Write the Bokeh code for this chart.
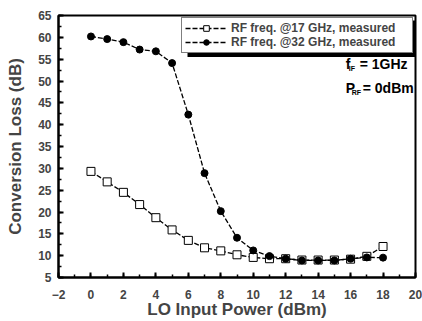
from bokeh.plotting import figure
from bokeh.models import Legend, LegendItem, Label, BoxAnnotation, FixedTicker, Range1d
from bokeh.embed import file_html
from bokeh.resources import INLINE

lo_power = [0, 1, 2, 3, 4, 5, 6, 7, 8, 9, 10, 11, 12, 13, 14, 15, 16, 17, 18]
loss_17ghz = [29.3, 26.9, 24.5, 21.7, 18.7, 15.9, 13.5, 11.8, 11.1, 10.2, 9.6, 9.3, 9.3, 9.0, 9.0, 9.0, 9.2, 9.85, 12.1]
loss_32ghz = [60.2, 59.6, 58.9, 57.2, 56.8, 54.1, 42.3, 28.9, 20.2, 14.1, 11.2, 9.9, 9.3, 8.9, 8.9, 8.9, 9.3, 9.6, 9.55]
x_ticks = [-2, 0, 2, 4, 6, 8, 10, 12, 14, 16, 18, 20]
y_ticks = [5, 10, 15, 20, 25, 30, 35, 40, 45, 50, 55, 60, 65]
label_17 = "RF freq. @17 GHz, measured"
label_32 = "RF freq. @32 GHz, measured"
x_title = "LO Input Power (dBm)"
y_title = "Conversion Loss (dB)"

FONT = "Liberation Sans"

p = figure(width=422, height=321, output_backend="svg", toolbar_location=None,
           x_range=Range1d(-2, 20), y_range=Range1d(5, 65),
           min_border_left=58, min_border_right=7, min_border_top=15, min_border_bottom=44)
p.background_fill_color = "white"
p.border_fill_color = "white"
p.outline_line_color = "black"
p.outline_line_width = 2
p.grid.visible = False

for ax in (p.xaxis[0], p.yaxis[0]):
    ax.axis_line_width = 2
    ax.major_tick_in = 5
    ax.major_tick_out = 0
    ax.minor_tick_in = 3
    ax.minor_tick_out = 0
    ax.major_tick_line_width = 2
    ax.minor_tick_line_width = 1.5
    ax.major_label_text_font = FONT
    ax.major_label_text_font_style = "bold"
    ax.major_label_text_font_size = "12px"
    ax.axis_label_text_font = FONT
    ax.axis_label_text_font_style = "bold"
    ax.axis_label_text_font_size = "17px"

p.xaxis.ticker = FixedTicker(ticks=x_ticks, minor_ticks=list(range(-2, 21)))
p.yaxis.ticker = FixedTicker(ticks=y_ticks, minor_ticks=[v / 2 for v in range(10, 131, 5)])
p.xaxis.axis_label = x_title
p.yaxis.axis_label = y_title
p.xaxis.major_label_standoff = 12
p.yaxis.major_label_standoff = 7
p.xaxis.axis_label_standoff = -2
p.yaxis.axis_label_standoff = 10

l17 = p.line(lo_power, loss_17ghz, line_color="black", line_width=1.3, line_dash="5 2")
s17 = p.scatter(lo_power, loss_17ghz, marker="square", size=8, fill_color="white",
                line_color="black", line_width=1)
l32 = p.line(lo_power, loss_32ghz, line_color="black", line_width=1.3, line_dash="5 2")
s32 = p.scatter(lo_power, loss_32ghz, marker="circle", size=7, fill_color="black",
                line_color="black")

shadow = BoxAnnotation(left=5.95, right=20.2, top=63.86, bottom=55.5,
                       fill_color="black", fill_alpha=1, line_alpha=0)
p.add_layout(shadow)

legend = Legend(items=[LegendItem(label=label_17, renderers=[l17, s17]),
                       LegendItem(label=label_32, renderers=[l32, s32])],
                location="top_right", margin=2, padding=3, spacing=0,
                label_text_font=FONT, label_text_font_style="bold",
                label_text_font_size="12px", label_height=14, glyph_height=14,
                glyph_width=42, label_standoff=4, label_width=178,
                border_line_color="black", border_line_width=1.5,
                background_fill_color="white", background_fill_alpha=1)
p.add_layout(legend)

def lab(text, x, y, xo, yo, size):
    p.add_layout(Label(x=x, y=y, x_offset=xo, y_offset=yo, text=text,
                       text_font=FONT, text_font_style="bold", text_font_size=size,
                       text_baseline="middle", text_align="left", text_color="black"))

lab("f", 15.7, 54.0, 0, 0, "14px")
lab("IF", 15.7, 54.0, 3, -5, "7px")
lab("= 1GHz", 15.7, 54.0, 14, 0, "14px")
lab("P", 15.7, 48.5, 0, 0, "14px")
lab("RF", 15.7, 48.5, 6, -5, "7px")
lab("= 0dBm", 15.7, 48.5, 17, 0, "14px")

open("out.html", "w").write(file_html(p, INLINE))
